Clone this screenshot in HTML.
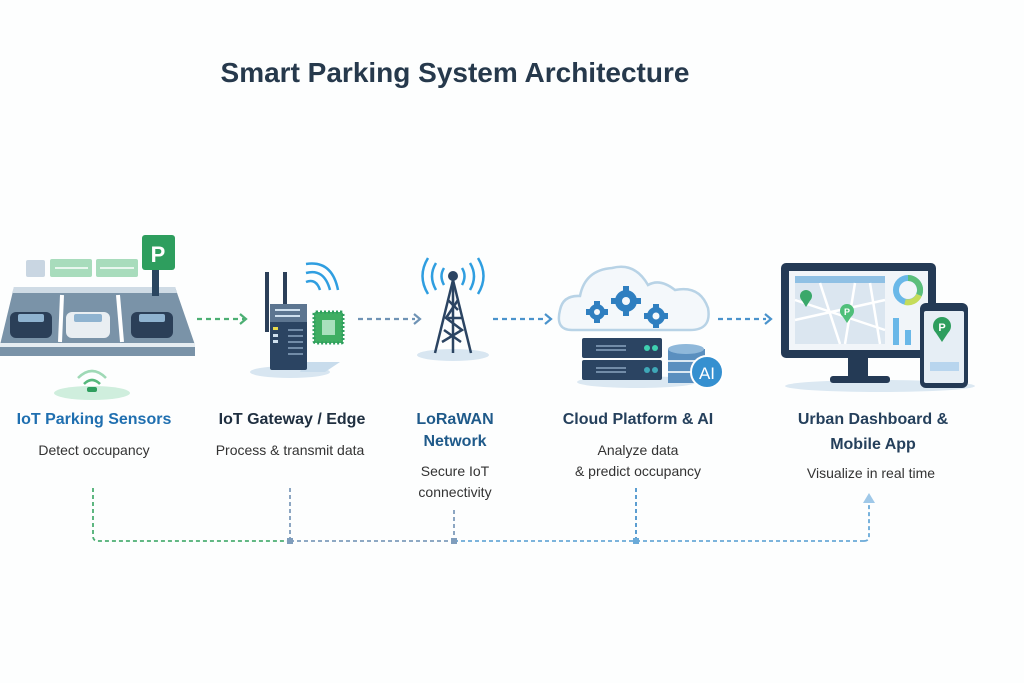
<!DOCTYPE html>
<html><head><meta charset="utf-8"><style>
html,body{margin:0;padding:0;background:#fff;}
svg{display:block;font-family:"Liberation Sans",sans-serif;}
</style></head><body>
<svg width="1024" height="683" viewBox="0 0 1024 683" xmlns="http://www.w3.org/2000/svg">
<rect width="1024" height="683" fill="#fdfefe"/>
<text x="455" y="82" text-anchor="middle" font-size="28" font-weight="bold" fill="#26394c">Smart Parking System Architecture</text>

<!-- Parking lot -->
<rect x="26" y="260" width="19" height="17" rx="2" fill="#c9d6e2"/>
<rect x="50" y="259" width="42" height="18" rx="2" fill="#a8dcbc"/>
<rect x="96" y="259" width="42" height="18" rx="2" fill="#a8dcbc"/>
<line x1="55" y1="268" x2="88" y2="268" stroke="#e8f6ee" stroke-width="2"/>
<line x1="100" y1="268" x2="134" y2="268" stroke="#e8f6ee" stroke-width="2"/>
<polygon points="14,287 175,287 195,345 195,356 0,356 0,345" fill="#7a93a8"/>
<polygon points="14,287 175,287 177,293 12,293" fill="#cfdbe5"/>
<rect x="0" y="343" width="195" height="4" fill="#e6edf2"/>
<line x1="62" y1="295" x2="60" y2="342" stroke="#fff" stroke-width="4"/>
<line x1="118" y1="295" x2="122" y2="342" stroke="#fff" stroke-width="4"/>
<rect x="152" y="268" width="7" height="28" fill="#2b4660"/>
<rect x="142" y="235" width="33" height="35" rx="3" fill="#2e9e5e"/>
<text x="158" y="262" text-anchor="middle" font-size="22" font-weight="bold" fill="#fff">P</text>
<g fill="#2b3f58"><rect x="10" y="312" width="42" height="26" rx="6"/><rect x="131" y="312" width="42" height="26" rx="6"/></g>
<rect x="66" y="312" width="44" height="26" rx="6" fill="#e9eef2"/>
<g fill="#8fb3d0"><rect x="18" y="314" width="26" height="8" rx="2"/><rect x="74" y="314" width="28" height="8" rx="2"/><rect x="139" y="314" width="26" height="8" rx="2"/></g>
<ellipse cx="92" cy="393" rx="38" ry="7" fill="#cfeedd"/>
<rect x="87" y="387" width="10" height="5" rx="2" fill="#2e9e5e"/>
<path d="M84 384 Q92 376 100 384" fill="none" stroke="#57b97d" stroke-width="2.5"/>
<path d="M78 378 Q92 364 106 378" fill="none" stroke="#9fd9b6" stroke-width="2.5"/>

<!-- Gateway -->
<ellipse cx="290" cy="372" rx="40" ry="6" fill="#d8e6f1"/>
<polygon points="305,362 340,362 325,372 300,372" fill="#c8dcec"/>
<rect x="265" y="272" width="4" height="60" fill="#2b3f58"/>
<rect x="283" y="272" width="4" height="40" fill="#2b3f58"/>
<rect x="270" y="304" width="37" height="66" rx="2" fill="#2b4462"/>
<rect x="270" y="304" width="37" height="18" fill="#5c7590"/>
<g stroke="#cfe0ee" stroke-width="2"><line x1="275" y1="310" x2="300" y2="310"/><line x1="275" y1="316" x2="300" y2="316"/></g>
<rect x="273" y="327" width="5" height="3" fill="#e8d94a"/>
<g fill="#cfe0ee"><rect x="273" y="334" width="5" height="3"/><rect x="273" y="340" width="5" height="3"/></g>
<g stroke="#8aa4bf" stroke-width="1.5"><line x1="288" y1="330" x2="303" y2="330"/><line x1="288" y1="336" x2="303" y2="336"/><line x1="288" y1="342" x2="303" y2="342"/><line x1="288" y1="348" x2="303" y2="348"/><line x1="288" y1="354" x2="303" y2="354"/></g>
<rect x="314" y="312" width="29" height="31" rx="2" fill="#3fae62" stroke="#2e9e5e" stroke-dasharray="2 2" stroke-width="3"/>
<rect x="322" y="320" width="13" height="15" fill="#a8e0bc"/>
<path d="M306 282 Q316 278 320 290" fill="none" stroke="#2f9ee0" stroke-width="2.5"/>
<path d="M306 273 Q324 268 330 290" fill="none" stroke="#2f9ee0" stroke-width="2.5"/>
<path d="M306 264 Q332 260 338 290" fill="none" stroke="#2f9ee0" stroke-width="2.5"/>

<!-- Tower -->
<ellipse cx="453" cy="355" rx="36" ry="6" fill="#d8e6f1"/>
<circle cx="453" cy="276" r="5" fill="#2b4462"/>
<g stroke="#2b4462" stroke-width="2.5" fill="none">
<line x1="453" y1="280" x2="435" y2="353"/><line x1="453" y1="280" x2="471" y2="353"/><line x1="453" y1="280" x2="453" y2="353"/>
<path d="M448 300 L458 310 M458 300 L446 318 L462 330 L442 342 M448 318 L463 318 M444 330 L461 342"/>
</g>
<g fill="none" stroke="#2f9ee0" stroke-width="2.5">
<path d="M444 268 Q439 276 444 285"/><path d="M462 268 Q467 276 462 285"/>
<path d="M436 263 Q428 276 436 290"/><path d="M470 263 Q478 276 470 290"/>
<path d="M428 258 Q417 276 428 294"/><path d="M478 258 Q489 276 478 294"/>
</g>

<!-- Cloud -->
<ellipse cx="637" cy="382" rx="60" ry="6" fill="#dbe8f2"/>
<path d="M572 330 Q555 330 560 310 Q563 295 580 296 Q585 270 612 268 Q635 262 648 285 Q660 278 675 290 Q700 285 708 308 Q712 330 690 330 Z" fill="#f4f8fb" stroke="#b8d3e6" stroke-width="2.5"/>
<g fill="#2f7fc0"><circle cx="626" cy="301" r="11"/><circle cx="597" cy="312" r="8"/><circle cx="656" cy="316" r="9"/></g>
<g fill="#2f7fc0"><rect x="623" y="286" width="6" height="30"/><rect x="611" y="298" width="30" height="6"/><rect x="594" y="301" width="6" height="22"/><rect x="586" y="309" width="22" height="6"/><rect x="653" y="304" width="6" height="24"/><rect x="644" y="313" width="24" height="6"/></g>
<g fill="#f4f8fb"><circle cx="626" cy="301" r="4"/><circle cx="597" cy="312" r="3"/><circle cx="656" cy="316" r="3.5"/></g>
<rect x="582" y="338" width="80" height="20" rx="2" fill="#2b4462"/>
<rect x="582" y="360" width="80" height="20" rx="2" fill="#2b4462"/>
<g stroke="#8aa4bf" stroke-width="1.5"><line x1="596" y1="346" x2="626" y2="346"/><line x1="596" y1="350" x2="626" y2="350"/><line x1="596" y1="368" x2="626" y2="368"/><line x1="596" y1="372" x2="626" y2="372"/></g>
<g fill="#3fd0b0"><circle cx="647" cy="348" r="3"/><circle cx="655" cy="348" r="3"/></g>
<g fill="#3fa8b8"><circle cx="647" cy="370" r="3"/><circle cx="655" cy="370" r="3"/></g>
<rect x="668" y="349" width="37" height="34" fill="#5a8fbf"/>
<ellipse cx="686" cy="349" rx="18" ry="5" fill="#8fb8da"/>
<line x1="668" y1="361" x2="705" y2="361" stroke="#dbe8f2" stroke-width="2"/><line x1="668" y1="372" x2="705" y2="372" stroke="#dbe8f2" stroke-width="2"/>
<circle cx="707" cy="372" r="16" fill="#3590d0" stroke="#fff" stroke-width="2"/>
<text x="707" y="379" text-anchor="middle" font-size="17" fill="#fff">AI</text>

<!-- Dashboard -->
<ellipse cx="880" cy="386" rx="95" ry="6" fill="#dbe8f2"/>
<rect x="781" y="263" width="155" height="95" rx="5" fill="#243a55"/>
<rect x="789" y="271" width="139" height="79" fill="#f1f5f9"/>
<rect x="795" y="276" width="90" height="68" fill="#dbe6f0"/>
<rect x="795" y="276" width="90" height="7" fill="#8fc0e4"/>
<g stroke="#fff" stroke-width="2.5" fill="none"><path d="M795 320 L885 300 M820 283 L840 344 M855 283 L845 344 M795 300 L885 330 M870 283 L880 344"/></g>
<circle cx="806" cy="296" r="6" fill="#3aa86a"/><polygon points="801,299 811,299 806,307" fill="#3aa86a"/>
<circle cx="847" cy="311" r="7" fill="#4fbf7a"/><polygon points="841,314 853,314 847,323" fill="#4fbf7a"/>
<text x="847" y="315" text-anchor="middle" font-size="9" font-weight="bold" fill="#fff">P</text>
<circle cx="908" cy="290" r="12" fill="none" stroke="#6ab8e8" stroke-width="6"/>
<path d="M908 278 A12 12 0 0 1 919 295" fill="none" stroke="#5cbf7a" stroke-width="6"/>
<path d="M919 295 A12 12 0 0 1 905 302" fill="none" stroke="#c5dc5a" stroke-width="6"/>
<rect x="893" y="318" width="6" height="27" fill="#6ab8e8"/><rect x="905" y="330" width="6" height="15" fill="#6ab8e8"/>
<rect x="848" y="358" width="20" height="20" fill="#243a55"/>
<rect x="830" y="376" width="60" height="7" rx="3" fill="#243a55"/>
<rect x="920" y="303" width="48" height="85" rx="6" fill="#243a55"/>
<rect x="924" y="311" width="40" height="72" rx="2" fill="#e6eef5"/>
<circle cx="942" cy="326" r="9" fill="#2e9e5e"/><polygon points="934,330 950,330 942,342" fill="#2e9e5e"/>
<text x="942" y="331" text-anchor="middle" font-size="11" font-weight="bold" fill="#fff">P</text>
<rect x="930" y="362" width="29" height="9" fill="#b8d5ee"/>

<!-- Arrows -->
<g fill="none" stroke-width="2.2" stroke-dasharray="5 4">
<line x1="197" y1="319" x2="244" y2="319" stroke="#4caf73"/>
<line x1="358" y1="319" x2="415" y2="319" stroke="#6f93b5"/>
<line x1="493" y1="319" x2="546" y2="319" stroke="#4a93cc"/>
<line x1="718" y1="319" x2="766" y2="319" stroke="#4a93cc"/>
</g>
<g fill="none" stroke-width="2.2">
<path d="M240 314 L246 319 L240 324" stroke="#4caf73"/>
<path d="M414 314 L420 319 L414 324" stroke="#6f93b5"/>
<path d="M545 314 L551 319 L545 324" stroke="#4a93cc"/>
<path d="M765 314 L771 319 L765 324" stroke="#4a93cc"/>
</g>

<!-- Labels -->
<g text-anchor="middle">
<text x="94" y="424" font-size="16" font-weight="bold" fill="#1f6fb0">IoT Parking Sensors</text>
<text x="94" y="455" font-size="14" fill="#333">Detect occupancy</text>
<text x="292" y="424" font-size="16" font-weight="bold" fill="#1f2f40">IoT Gateway / Edge</text>
<text x="290" y="455" font-size="14" fill="#333">Process &amp; transmit data</text>
<text x="455" y="424" font-size="16" font-weight="bold" fill="#1f5a8a">LoRaWAN</text>
<text x="455" y="446" font-size="16" font-weight="bold" fill="#1f5a8a">Network</text>
<text x="455" y="476" font-size="14" fill="#333">Secure IoT</text>
<text x="455" y="497" font-size="14" fill="#333">connectivity</text>
<text x="638" y="424" font-size="16" font-weight="bold" fill="#25405c">Cloud Platform &amp; AI</text>
<text x="638" y="455" font-size="14" fill="#333">Analyze data</text>
<text x="638" y="476" font-size="14" fill="#333">&amp; predict occupancy</text>
<text x="873" y="424" font-size="16" font-weight="bold" fill="#25405c">Urban Dashboard &amp;</text>
<text x="873" y="449" font-size="16" font-weight="bold" fill="#25405c">Mobile App</text>
<text x="871" y="478" font-size="14" fill="#333">Visualize in real time</text>
</g>

<!-- Bottom connectors -->
<g fill="none" stroke-width="1.8" stroke-dasharray="4 3">
<path d="M93 488 L93 536 Q93 541 98 541 L290 541" stroke="#4caf73"/>
<line x1="290" y1="488" x2="290" y2="541" stroke="#7f9dbc"/>
<line x1="290" y1="541" x2="454" y2="541" stroke="#7f9dbc"/>
<line x1="454" y1="510" x2="454" y2="541" stroke="#7f9dbc"/>
<line x1="454" y1="541" x2="864" y2="541" stroke="#6aaad8"/>
<line x1="636" y1="488" x2="636" y2="541" stroke="#4a93cc"/>
<path d="M864 541 Q869 541 869 536 L869 505" stroke="#6aaad8"/>
</g>
<polygon points="863,503 875,503 869,493" fill="#9fc8e8"/>
<g fill="#7f9dbc"><rect x="287" y="538" width="6" height="6"/><rect x="451" y="538" width="6" height="6"/></g>
<rect x="633" y="538" width="6" height="6" fill="#6aaad8"/>
</svg>
</body></html>
